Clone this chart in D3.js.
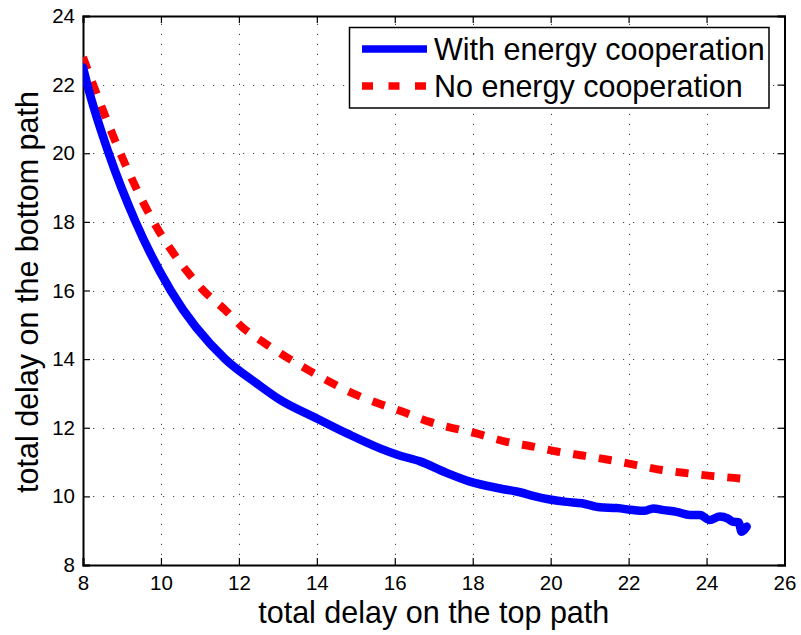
<!DOCTYPE html>
<html>
<head>
<meta charset="utf-8">
<script src="https://cdn.jsdelivr.net/npm/d3@7"></script>
<style>
  html, body { margin: 0; padding: 0; background: #fff; }
  svg { display: block; }
  text { font-family: "Liberation Sans", Arial, Helvetica, sans-serif; fill: #000; }
</style>
</head>
<body>
<svg id="chart" width="801" height="635"></svg>
<script>
// Delay trade-off between the two paths
const xTicks = [8, 10, 12, 14, 16, 18, 20, 22, 24, 26];
const yTicks = [8, 10, 12, 14, 16, 18, 20, 22, 24];

const seriesNames = ["With energy cooperation", "No energy cooperation"];

// with energy cooperation (blue, solid)
const coopX = [8.0, 8.11, 8.66, 9.35, 10.25, 11.65, 12.46, 13.06,
  14.0, 14.8, 15.62, 16.1, 16.65, 17.3, 17.93, 18.7, 19.21, 19.6, 19.98, 20.41, 20.8,
  21.26, 21.7, 22.12, 22.4, 22.63, 22.9, 23.23, 23.57, 23.83, 24.08, 24.34, 24.55,
  24.68, 24.82, 24.9, 25.03];
const coopY = [22.5, 22.0, 20.0, 18.0, 16.0, 14.0, 13.29, 12.81,
  12.27, 11.82, 11.4, 11.2, 11.02, 10.7, 10.43, 10.23, 10.12, 10.0, 9.91, 9.84, 9.8,
  9.68, 9.66, 9.6, 9.58, 9.65, 9.6, 9.55, 9.46, 9.46, 9.31, 9.41, 9.35,
  9.26, 9.25, 8.97, 9.12];

// no energy cooperation (red, dashed)
const noCoopX = [8.0, 8.26, 8.96, 9.81, 10.71, 11.09, 11.65, 12.12, 12.67, 13.83, 15.03,
  16.31, 16.9, 18.14, 18.87, 19.55, 20.19, 20.88, 21.52, 22.2, 22.85, 23.53, 24.17,
  24.85, 25.0];
const noCoopY = [22.8, 22.0, 20.0, 18.0, 16.5, 16.0, 15.43, 14.9, 14.46, 13.65, 12.95,
  12.42, 12.17, 11.82, 11.59, 11.45, 11.3, 11.18, 11.06, 10.91, 10.77, 10.67, 10.59,
  10.52, 10.5];

const svg = d3.select("#chart");
const plotL = 83, plotR = 784.5, plotT = 16, plotB = 565;

const x = d3.scaleLinear().domain([8, 26]).range([plotL, plotR]);
const y = d3.scaleLinear().domain([8, 24]).range([plotB, plotT]);

// grid (dotted)
const grid = svg.append("g").attr("stroke", "#444").attr("stroke-width", 1)
  .attr("stroke-dasharray", "1.2,8.8");
grid.selectAll("line.gx").data(xTicks.slice(1, -1)).join("line")
  .attr("x1", d => Math.round(x(d)) + 0.5).attr("x2", d => Math.round(x(d)) + 0.5)
  .attr("y1", plotB).attr("y2", plotT);
grid.selectAll("line.gy").data(yTicks.slice(1, -1)).join("line")
  .attr("y1", d => Math.round(y(d)) + 0.5).attr("y2", d => Math.round(y(d)) + 0.5)
  .attr("x1", plotL).attr("x2", plotR);

// axes with inward ticks on all four sides
const tickLen = 7;
const fmt = d3.format("d");
const axB = svg.append("g").attr("transform", `translate(0,${plotB})`)
  .call(d3.axisBottom(x).tickValues(xTicks).tickSize(-tickLen).tickPadding(10).tickFormat(fmt));
const axT = svg.append("g").attr("transform", `translate(0,${plotT})`)
  .call(d3.axisTop(x).tickValues(xTicks).tickSize(-tickLen).tickFormat(""));
const axL = svg.append("g").attr("transform", `translate(${plotL},0)`)
  .call(d3.axisLeft(y).tickValues(yTicks).tickSize(-tickLen).tickPadding(8).tickFormat(fmt));
const axR = svg.append("g").attr("transform", `translate(${plotR},0)`)
  .call(d3.axisRight(y).tickValues(yTicks).tickSize(-tickLen).tickFormat(""));
[axB, axT, axL, axR].forEach(g => {
  g.select(".domain").attr("stroke", "#000").attr("stroke-width", 2);
  g.selectAll(".tick line").attr("stroke", "#000").attr("stroke-width", 1.2);
  g.selectAll(".tick text").style("font-size", "20.5px").style("font-family", "'Liberation Sans', Arial, sans-serif");
});

// curves
svg.append("clipPath").attr("id", "plotclip").append("rect")
  .attr("x", plotL).attr("y", plotT).attr("width", plotR - plotL).attr("height", plotB - plotT);
const plot = svg.append("g").attr("clip-path", "url(#plotclip)");

const smooth = d3.line().x(d => x(d[0])).y(d => y(d[1])).curve(d3.curveMonotoneX);

plot.append("path")
  .datum(d3.zip(noCoopX, noCoopY))
  .attr("d", smooth)
  .attr("fill", "none").attr("stroke", "#ff0000").attr("stroke-width", 8)
  .attr("stroke-dasharray", "13,13");

plot.append("path")
  .datum(d3.zip(coopX, coopY))
  .attr("d", smooth)
  .attr("fill", "none").attr("stroke", "#0000ff").attr("stroke-width", 8.5)
  .attr("stroke-linejoin", "round").attr("stroke-linecap", "round");

// legend
const lg = svg.append("g");
lg.append("rect").attr("x", 349.5).attr("y", 27.5).attr("width", 419.5).attr("height", 80.5)
  .attr("fill", "#fff").attr("stroke", "#000").attr("stroke-width", 1.5);
const rows = [
  { name: seriesNames[0], color: "#0000ff", dash: null, cy: 49 },
  { name: seriesNames[1], color: "#ff0000", dash: "11,15.5", cy: 86 }
];
rows.forEach(r => {
  lg.append("line").attr("x1", 362).attr("x2", 427).attr("y1", r.cy).attr("y2", r.cy)
    .attr("stroke", r.color).attr("stroke-width", 7.5)
    .attr("stroke-dasharray", r.dash);
  lg.append("text").attr("x", 434).attr("y", r.cy).attr("dy", "0.36em")
    .style("font-size", "30.5px").text(r.name);
});

// axis titles
svg.append("text").attr("x", (plotL + plotR) / 2).attr("y", 623)
  .attr("text-anchor", "middle").style("font-size", "30.5px")
  .text("total delay on the top path");
svg.append("text")
  .attr("transform", `translate(38,292) rotate(-90)`)
  .attr("text-anchor", "middle").style("font-size", "30.5px")
  .text("total delay on the bottom path");
</script>
</body>
</html>
